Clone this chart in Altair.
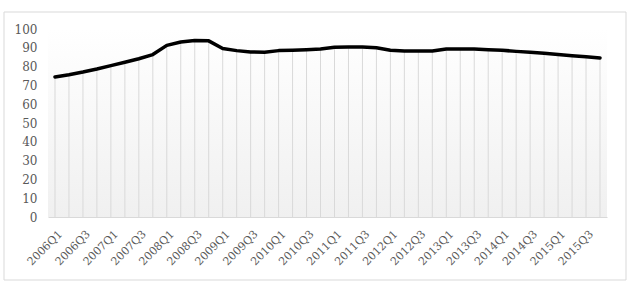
import altair as alt
import pandas as pd

quarters = [f"{y}Q{q}" for y in range(2006, 2016) for q in range(1, 5)]
values = [74.5, 75.7, 77.1, 78.7, 80.5, 82.3, 84.2, 86.4, 91.3, 93.1,
          93.9, 93.7, 89.6, 88.5, 87.8, 87.6, 88.5, 88.7, 89.0, 89.4,
          90.3, 90.4, 90.4, 90.0, 88.7, 88.3, 88.3, 88.3, 89.4, 89.4,
          89.4, 89.0, 88.7, 88.1, 87.6, 87.1, 86.4, 85.8, 85.3, 84.6]
tick_labels = [q for q in quarters if q.endswith("Q1") or q.endswith("Q3")]

df = pd.DataFrame({"quarter": quarters, "value": values})

W, H = 559, 188
FONT = "DejaVu Serif"
GRAY = "#595959"

x_enc = alt.X("quarter:N", sort=quarters,
              scale=alt.Scale(type="point", padding=0.5),
              axis=alt.Axis(title=None, values=tick_labels, labelAngle=-45,
                            labelAlign="right", labelBaseline="top",
                            labelFont=FONT, labelFontSize=11, labelColor=GRAY,
                            labelPadding=11, labelOffset=1, ticks=False, domain=True,
                            domainColor="#d9d9d9", grid=False))
y_enc = alt.Y("value:Q", scale=alt.Scale(domain=[0, 100], nice=False),
              axis=alt.Axis(title=None, values=list(range(0, 101, 10)),
                            labelFont=FONT, labelFontSize=12, labelColor=GRAY,
                            labelPadding=11, ticks=False, domain=False, grid=False))

deco = alt.Data(values=[{}])

border = alt.Chart(deco).mark_rect(fill=None, stroke="#d9d9d9", strokeWidth=1, clip=False).encode(
    x=alt.value(-44), x2=alt.value(578), y=alt.value(-17), y2=alt.value(251))

bg = alt.Chart(deco).mark_rect(
    clip=False,
    color=alt.Gradient(gradient="linear", x1=0, y1=0, x2=0, y2=1,
                       stops=[alt.GradientStop(color="#ffffff", offset=0),
                              alt.GradientStop(color="#f0f0f0", offset=1)])
).encode(x=alt.value(0), x2=alt.value(W), y=alt.value(0), y2=alt.value(H))

base = alt.Chart(df)
rules = base.mark_rule(color="#d9d9d9", strokeWidth=1).encode(
    x=x_enc, y=y_enc, y2=alt.datum(0))
line = base.mark_line(color="#000000", strokeWidth=3.5, strokeCap="round",
                      strokeJoin="round").encode(x=x_enc, y=y_enc)

chart = alt.layer(border, bg, rules, line).properties(
    width=W, height=H,
    autosize=alt.AutoSizeParams(type="none"),
    padding={"left": 48, "top": 29, "right": 24, "bottom": 69},
    background="#ffffff",
).configure_view(stroke=None)

chart.save("out.html", embed_options={"renderer": "svg", "actions": False})
